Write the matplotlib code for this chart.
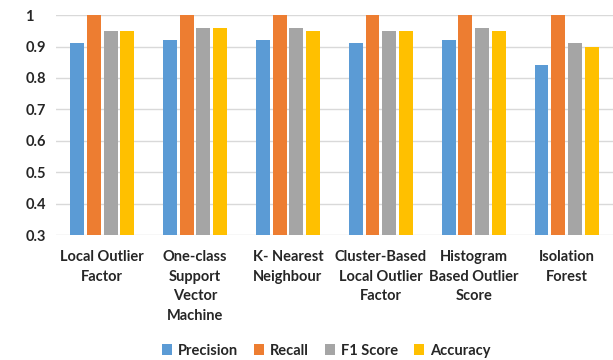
import matplotlib.pyplot as plt
import numpy as np

plt.rcParams['font.family'] = ['Lato', 'DejaVu Sans']

#Data
methods = ["Local Outlier\nFactor", "One-class\nSupport\nVector\nMachine",
           "K- Nearest\nNeighbour", "Cluster-Based\nLocal Outlier\nFactor",
           "Histogram\nBased Outlier\nScore", "Isolation\nForest"]
precision = [0.91, 0.92, 0.92, 0.91, 0.92, 0.84]
recall = [1.0, 1.0, 1.0, 1.0, 1.0, 1.0]
f1_score = [0.95, 0.96, 0.96, 0.95, 0.96, 0.91]
accuracy = [0.95, 0.96, 0.95, 0.95, 0.95, 0.90]

series = [("Precision", precision, "#5B9BD5"),
          ("Recall", recall, "#ED7D31"),
          ("F1 Score", f1_score, "#A5A5A5"),
          ("Accuracy", accuracy, "#FFC000")]

fig = plt.figure(figsize=(6.13, 3.6), dpi=100)
ax = fig.add_axes([0.091, 0.347, 0.909, 0.611])

x = np.arange(len(methods))
width = 0.15
step = 0.18
for i, (name, vals, col) in enumerate(series):
    ax.bar(x + (i - 1.5) * step, vals, width, color=col, label=name, zorder=3)

ax.set_ylim(0.3, 1.0)
ax.set_xlim(-0.5, len(methods) - 0.5)
ax.set_yticks(np.arange(0.3, 1.01, 0.1))
ax.set_yticklabels(["0.3", "0.4", "0.5", "0.6", "0.7", "0.8", "0.9", "1"])
ax.set_xticks(x)
ax.set_xticklabels(methods, linespacing=1.5)
ax.grid(axis="y", color="#D9D9D9", linewidth=1, zorder=0)
for s in ax.spines.values():
    s.set_visible(False)
ax.tick_params(length=0, labelsize=10.5, colors="#262626")
ax.tick_params(axis="y", pad=22)
ax.tick_params(axis="x", pad=11)
for lab in ax.get_xticklabels() + ax.get_yticklabels():
    lab.set_fontweight("bold")
for lab in ax.get_yticklabels():
    lab.set_horizontalalignment("left")

leg = fig.legend(loc="lower center", bbox_to_anchor=(0.532, -0.03), ncol=4,
                 frameon=False, handlelength=0.7, handleheight=0.7,
                 handletextpad=0.4, columnspacing=1.1,
                 prop={"weight": "bold", "size": 10.5})
for t in leg.get_texts():
    t.set_color("#262626")

fig.savefig("out.png", dpi=100)
